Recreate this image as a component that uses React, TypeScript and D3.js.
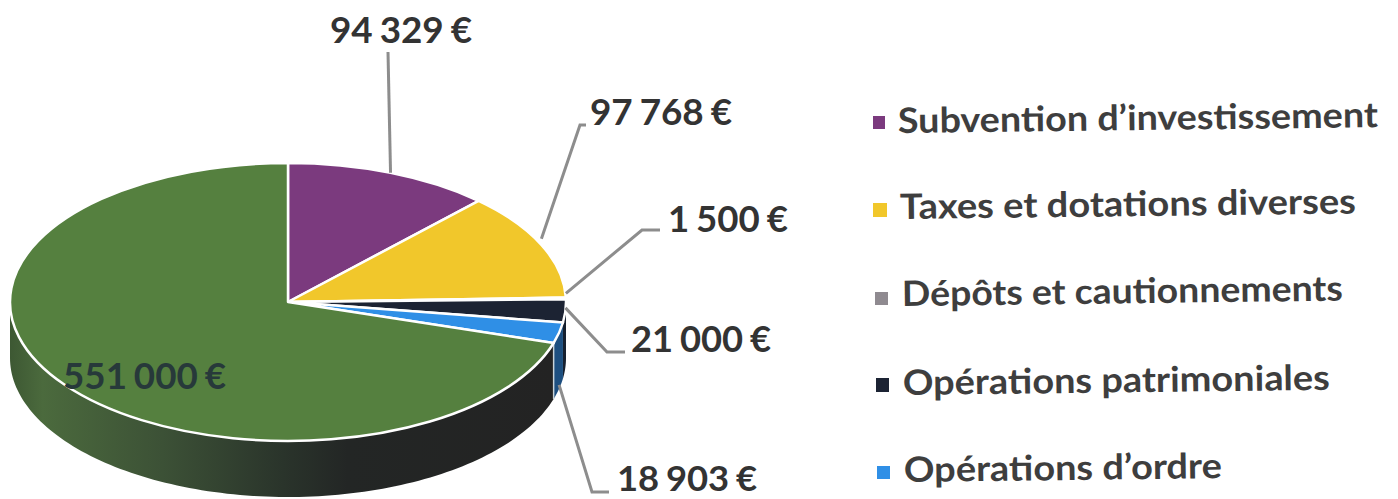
import React from "react";
import * as d3 from "d3";

// ---- data ----
const categories = ["Subvention d’investissement", "Taxes et dotations diverses", "Dépôts et cautionnements", "Opérations patrimoniales", "Opérations d’ordre", "Autres"];
const values = [94329, 97768, 1500, 21000, 18903, 551000];
const valueLabels = ["94 329 €", "97 768 €", "1 500 €", "21 000 €", "18 903 €", "551 000 €"];

// ---- style and layout ----
const topColors = ["#7b3a7e", "#f1c72b", "#8f8a90", "#1c2333", "#2f8fe6", "#55803f"];
const sideColors = ["#4f2650", "#9c8120", "#5c585c", "#16202f", "#1d4f80", "url(#sideGrad)"];
const legendSwatches = [[873, 116, 12, 13], [873, 203, 14, 14], [875, 292, 13, 13], [876, 378, 13, 14], [877, 466, 13, 13]];
const legendText = [[898, 133, 480], [900, 219, 456], [902, 306, 441], [903, 395, 427], [904, 482, 318]];
const labelText = [[330, 43, 142], [590, 125, 142], [668, 232, 120], [631, 352, 140], [617, 491, 140], [63, 389, 163]];
const leaderPaths: number[][][] = [
  [[388, 52]],
  [[580, 125], [586, 125]],
  [[642, 230], [660, 230]],
  [[607, 352], [625, 352]],
  [[592, 492], [609, 492]],
  [],
];
const leaderDrop = [0, -6, -5, -3, 52, 0];

const cx = 288, cy = 302, rx = 278, ry = 139, depth = 56;
const FONT = "Lato, 'Open Sans', sans-serif";

const pie = d3.pie<number>().sort(null).startAngle(0).endAngle(2 * Math.PI);
const arcs = pie(values);
const arcGen = d3.arc<d3.PieArcDatum<number>>().innerRadius(0).outerRadius(rx);
const px = (a: number) => cx + rx * Math.sin(a);
const py = (a: number) => cy - ry * Math.cos(a);
const line = d3.line<number[]>();

function sidePath(a0: number, a1: number): string | null {
  const s = Math.max(a0, Math.PI / 2), e = Math.min(a1, (3 * Math.PI) / 2);
  if (e <= s) return null;
  const steps = d3.range(0, 121).map((i) => s + ((e - s) * i) / 120);
  const upper = steps.map((a) => [px(a), py(a)]);
  const lower = steps.slice().reverse().map((a) => [px(a), py(a) + depth]);
  return line([...upper, ...lower]) + "Z";
}

export default function App() {
  return (
    <svg width={1398} height={499} style={{ position: "fixed", left: 0, top: 0, background: "#fff" }} fontFamily={FONT}>
      <defs>
        <linearGradient id="sideGrad" gradientUnits="userSpaceOnUse" x1={10} x2={555} y1={0} y2={0}>
          <stop offset="0" stopColor="#3d5833" />
          <stop offset="0.06" stopColor="#4b6a3d" />
          <stop offset="0.28" stopColor="#3c5136" />
          <stop offset="0.5" stopColor="#2a342b" />
          <stop offset="0.62" stopColor="#232625" />
          <stop offset="1" stopColor="#232323" />
        </linearGradient>
      </defs>

      {/* walls */}
      {arcs.map((d, i) => {
        const p = sidePath(d.startAngle, d.endAngle);
        return p ? <path key={i} d={p} fill={sideColors[i]} /> : null;
      })}
      {/* wall seam between green and blue */}
      <path d={line([[px(arcs[5].startAngle), py(arcs[5].startAngle)], [px(arcs[5].startAngle), py(arcs[5].startAngle) + depth]])!} stroke="#c9d3d8" strokeWidth={1.5} fill="none" />

      {/* top */}
      <g transform={`translate(${cx},${cy}) scale(1,${ry / rx})`}>
        {arcs.map((d, i) => (
          <path key={i} d={arcGen(d)!} fill={topColors[i]} stroke="#fff" strokeWidth={2.5} strokeLinejoin="round" style={{ vectorEffect: "non-scaling-stroke" }} />
        ))}
      </g>

      {/* leaders */}
      {arcs.map((d, i) => {
        if (!leaderPaths[i].length) return null;
        const m = (d.startAngle + d.endAngle) / 2;
        const start = [px(m), py(m) + leaderDrop[i]];
        return <path key={i} d={line([start, ...leaderPaths[i]])!} fill="none" stroke="#8d8d8d" strokeWidth={3} />;
      })}

      {/* value labels */}
      {valueLabels.map((t, i) => (
        <text key={i} x={labelText[i][0]} y={labelText[i][1]} fontSize={i === 4 ? 34 : 36} wordSpacing={-2} fontWeight={700} fill={i === 5 ? "#27393a" : "#333"} textLength={labelText[i][2]} lengthAdjust="spacingAndGlyphs">{t}</text>
      ))}

      {/* legend */}
      {legendSwatches.map((r, i) => (
        <rect key={i} x={r[0]} y={r[1]} width={r[2]} height={r[3]} fill={topColors[i]} />
      ))}
      {legendText.map((r, i) => (
        <text key={i} x={r[0]} y={r[1]} fontSize={35} fontWeight={700} fill="#3e3e3e" textLength={r[2]} lengthAdjust="spacingAndGlyphs" transform={`rotate(-0.7 ${r[0]} ${r[1]})`}>{categories[i]}</text>
      ))}
    </svg>
  );
}
